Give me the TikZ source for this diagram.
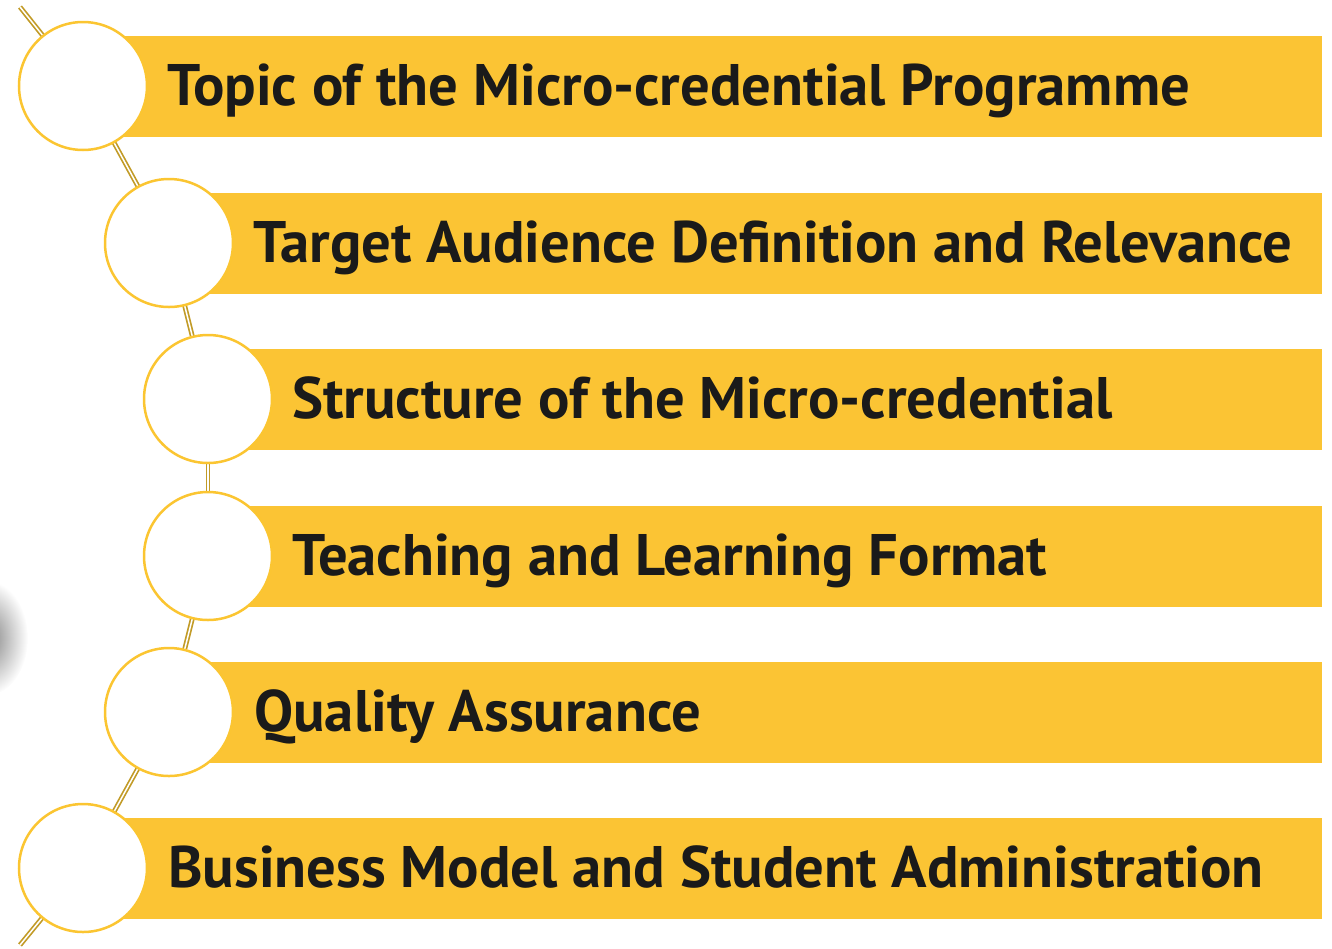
\documentclass[tikz,border=0pt]{standalone}
\usepackage{fontspec}
\setmainfont{PT Sans}
\usetikzlibrary{calc}
\definecolor{baryellow}{HTML}{FBC434}
\definecolor{ringyellow}{HTML}{FBC531}
\definecolor{linegold}{HTML}{C29B27}
\definecolor{txt}{HTML}{1A1A1A}
\begin{document}
\begin{tikzpicture}[x=1pt,y=-1pt,
  bar/.style={fill=baryellow,draw=none},
  ring/.style={circle,draw=ringyellow,line width=2.5pt,fill=white,minimum size=128pt,inner sep=0pt},
  link/.style={draw=linegold,line width=1.7pt,double=white,double distance=1.5pt},
  lbl/.style={anchor=base west,font=\bfseries\fontsize{58.6}{64}\selectfont,text=txt,inner sep=0pt}]
\useasboundingbox (0,0) rectangle (1332,948);
% faint shadow at left edge
\shade[inner color=black!50,outer color=white] (-14,638) ellipse (42 and 58);
% coordinates of circle centres
\coordinate (p1) at (83,86);
\coordinate (p2) at (169,243);
\coordinate (p3) at (208,399);
\coordinate (p4) at (208,556);
\coordinate (p5) at (169,712);
\coordinate (p6) at (83,868);
\coordinate (top) at (20,7);
\coordinate (bot) at (20,945);
% connectors
\draw[link] (top) -- (p1);
\draw[link] (p1) -- (p2);
\draw[link] (p2) -- (p3);
\draw[link] (p3) -- (p4);
\draw[link] (p4) -- (p5);
\draw[link] (p5) -- (p6);
\draw[link] (p6) -- (bot);
% bars
\foreach \c/\y in {p1/86,p2/243,p3/399,p4/556,p5/712,p6/868}{
  \path[bar] ($(\c)+(0,-50)$) rectangle (1322,\y+51);
}
% circles
\node[ring] (c1) at (p1) {};
\node[ring] (c2) at (p2) {};
\node[ring] (c3) at (p3) {};
\node[ring] (c4) at (p4) {};
\node[ring] (c5) at (p5) {};
\node[ring] (c6) at (p6) {};
% labels
\node[lbl] (t1) at (167,105) {Topic of the Micro-credential Programme};
\node[lbl] (t2) at (253,262) {Target Audience Definition and Relevance};
\node[lbl] (t3) at (292,418) {Structure of the Micro-credential};
\node[lbl] (t4) at (292,575) {Teaching and Learning Format};
\node[lbl] (t5) at (254,731) {Quality Assurance};
\node[lbl] (t6) at (168,887) {Business Model and Student Administration};
\end{tikzpicture}
\end{document}
